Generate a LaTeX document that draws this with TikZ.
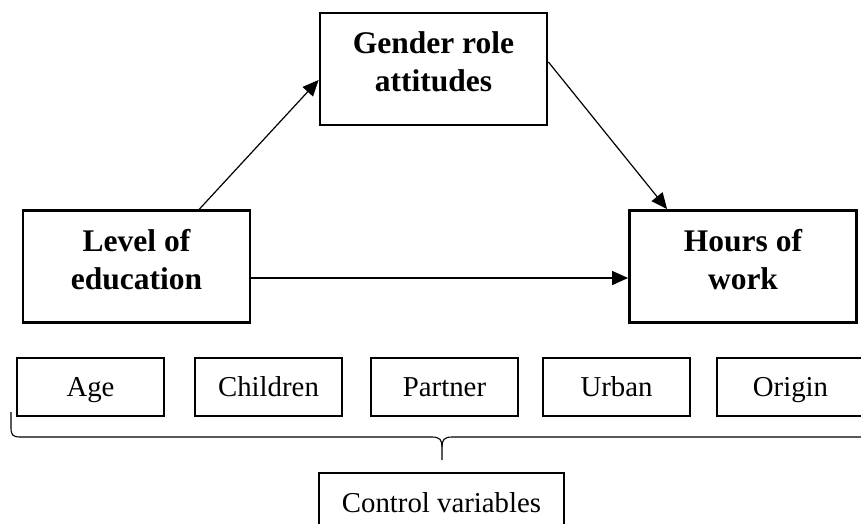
\documentclass[tikz,border=0pt]{standalone}
\usepackage{fontspec}
\setmainfont{Liberation Serif}
\usetikzlibrary{arrows.meta,calc}
\begin{document}
\begin{tikzpicture}[x=1pt,y=-1pt,
  bigbox/.style={draw,line width=2.8pt,minimum width=227pt,minimum height=112pt,inner sep=0pt},
  bigtext/.style={font=\fontsize{31.5}{37.5}\selectfont\bfseries,align=center,inner sep=0pt},
  smallbox/.style={draw,line width=2.6pt,minimum width=147pt,minimum height=58pt,inner sep=0pt,font=\fontsize{28.8}{34}\selectfont,text height=22pt,text depth=4pt},
  arr/.style={line width=1.2pt,-{Triangle[length=16pt,width=14pt]}},
  bracestyle/.style={line width=1.1pt}]
\useasboundingbox (0,0) rectangle (861,524);
\clip (0,0) rectangle (861,524);
% main boxes
\node[bigbox] (gen) at (433.5,69) {};
\node[bigbox] (lev) at (136.5,266.5) {};
\node[bigbox] (hrs) at (743,266.5) {};
\node[bigtext] (gent) at ([yshift=7pt]gen.center) {Gender role\\attitudes};
\node[bigtext] (levt) at ([yshift=7pt]lev.center) {Level of\\education};
\node[bigtext] (hrst) at ([yshift=7pt]hrs.center) {Hours of\\work};
% arrows
\draw[arr] ([xshift=-52pt]lev.north east) -- ([yshift=-11pt]gen.west);
\draw[arr] ([yshift=7pt]gen.east) -- ([xshift=39pt]hrs.north west);
\draw[arr] ([yshift=-11.5pt]lev.east) -- ([yshift=-11.5pt]hrs.west);
% control variable boxes
\node[smallbox] (age) at (90.5,387) {Age};
\node[smallbox] (chi) at (268.5,387) {Children};
\node[smallbox] (par) at (444.5,387) {Partner};
\node[smallbox] (urb) at (616.5,387) {Urban};
\node[smallbox] (ori) at (790.5,387) {Origin};
% brace
\draw[bracestyle] (11,412) -- (11,428) .. controls (11,435) and (13,437) .. (20,437) -- (432,437)
  .. controls (440,437) and (442,440) .. (442,447) -- (442,460);
\draw[bracestyle] (442,447) .. controls (442,440) and (444,437) .. (452,437) -- (880,437);
% control variables
\node[smallbox,minimum width=245pt,minimum height=60pt] (ctl) at (441.5,503) {Control variables};
\end{tikzpicture}
\end{document}
